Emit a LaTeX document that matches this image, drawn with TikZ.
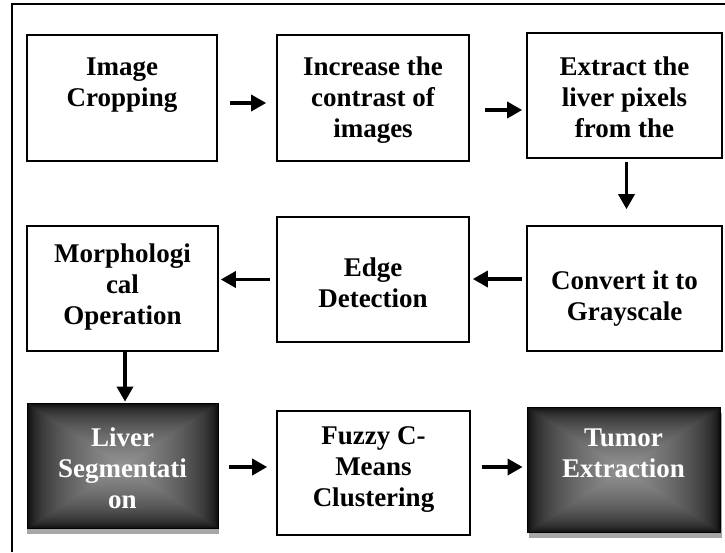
\documentclass[tikz,border=0pt]{standalone}
\usepackage{fontspec}
\setmainfont{Liberation Serif}
\usetikzlibrary{arrows.meta,calc}

% Rectangular glow: mid grey in the middle, fading to black at the border.
% max(|x|,|y|) is built as (a+b+|a-b|)/2, the clamp to 1 as (t+1-|t-1|)/2.
\pgfdeclarefunctionalshading{boxglow}{\pgfpoint{-50bp}{-50bp}}{\pgfpoint{50bp}{50bp}}{}{
  abs exch abs 2 copy sub abs add add 2 div 25 div
  dup 1 sub abs exch 1 add exch sub 2 div
  1 exch sub sqrt 0.58 mul dup dup
}

\tikzset{
  frameline/.style={draw=black, line width=1.8pt},
  stage/.style={draw=black, line width=1.6pt, fill=white, inner sep=0pt},
  darkstage/.style={draw=black, line width=0.8pt, shading=boxglow, inner sep=0pt},
  dropshade/.style={fill=black!35},
  caption/.style={align=center, inner sep=0pt,
    font=\bfseries\fontsize{27}{31}\selectfont},
  lightcaption/.style={caption, text=white},
  arr/.style={draw=black, line width=3.4pt,
    -{Triangle[length=15pt,width=16pt]}},
}

\begin{document}
\begin{tikzpicture}[x=1pt, y=-1pt]
  \useasboundingbox (0,0) rectangle (725,552);
  \fill[white] (0,0) rectangle (725,552);

  % outer frame (runs off the right and bottom edges)
  \draw[frameline] (12,552) -- (12,4) -- (725,4);

  % drop shadows of the dark stages
  \fill[dropshade] (27,409) rectangle (219,534);
  \fill[dropshade] (529,413) rectangle (722,538);

  % row 1
  \node[stage, minimum width=190pt, minimum height=126pt] (b1) at (122,98) {};
  \node[stage, minimum width=192pt, minimum height=126pt] (b2) at (373,98) {};
  \node[stage, minimum width=195pt, minimum height=125pt] (b3) at (624.5,95.5) {};
  % row 2
  \node[stage, minimum width=191pt, minimum height=125pt] (b4) at (122.5,288.5) {};
  \node[stage, minimum width=192pt, minimum height=125pt] (b5) at (373,279.5) {};
  \node[stage, minimum width=195pt, minimum height=125pt] (b6) at (624.5,288.5) {};
  % row 3
  \node[darkstage, minimum width=191pt, minimum height=125pt] (b7) at (122.5,465.5) {};
  \node[stage, minimum width=193pt, minimum height=124pt] (b8) at (373.5,473) {};
  \node[darkstage, minimum width=193pt, minimum height=125pt] (b9) at (623.5,469.5) {};

  % captions
  \node[caption] (t1) at (122,85) {Image\\Cropping};
  \node[caption] (t2) at (373,100.5) {Increase the\\contrast of\\images};
  \node[caption] (t3) at (624.5,97.5) {Extract the\\liver pixels\\from the};
  \node[caption] (t4) at (122.5,287) {Morphologi\\cal\\Operation};
  \node[caption] (t5) at (373,283) {Edge\\Detection};
  \node[caption] (t6) at (624.5,298.5) {Convert it to\\Grayscale};
  \node[lightcaption] (t7) at (122.5,468) {Liver\\Segmentati\\on};
  \node[caption] (t8) at (373.5,470) {Fuzzy C-\\Means\\Clustering};
  \node[lightcaption] (t9) at (623.5,453) {Tumor\\Extraction};

  % start points of the connectors, offset from the box mid-points
  \coordinate (s1) at ($(b1.east)+(0,5)$);
  \coordinate (s2) at ($(b2.east)+(0,12)$);
  \coordinate (s3) at ($(b3.south)+(2,0)$);
  \coordinate (s4) at ($(b6.west)+(0,-9.5)$);
  \coordinate (s5) at (b5.west);
  \coordinate (s6) at ($(b4.south)+(2.5,0)$);
  \coordinate (s7) at ($(b7.east)+(0,1.5)$);
  \coordinate (s8) at ($(b8.east)+(0,-6)$);

  % connectors
  \draw[arr, shorten <=12pt, shorten >=10pt] (s1) -- (s1 -| b2.west);
  \draw[arr, shorten <=15pt, shorten >=4pt]  (s2) -- (s2 -| b3.west);
  \draw[arr, shorten <=3pt, shorten >=16pt]  (s3) -- (s3 |- b6.north);
  \draw[arr, shorten <=4pt, shorten >=3pt]   (s4) -- (s4 -| b5.east);
  \draw[arr, shorten <=6pt, shorten >=2pt]   (s5) -- (s5 -| b4.east);
  \draw[arr, shorten <=0pt, shorten >=1pt]   (s6) -- (s6 |- b7.north);
  \draw[arr, shorten <=11pt, shorten >=9pt]  (s7) -- (s7 -| b8.west);
  \draw[arr, shorten <=11pt, shorten >=4pt]  (s8) -- (s8 -| b9.west);
\end{tikzpicture}
\end{document}
